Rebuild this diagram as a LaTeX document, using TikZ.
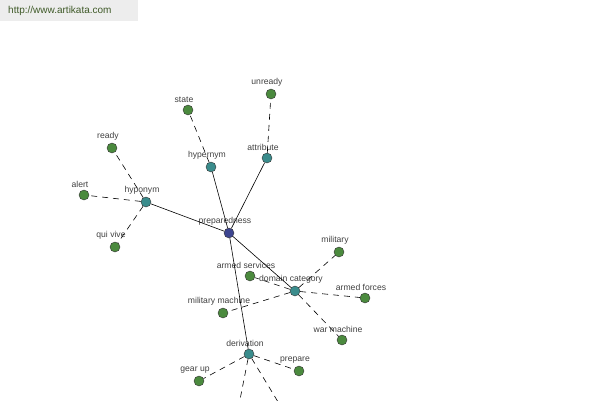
\documentclass[tikz,border=0pt]{standalone}
\usepackage{fontspec}
\setmainfont{Liberation Sans}
\usetikzlibrary{positioning}

\definecolor{hubblue}{HTML}{3D4590}
\definecolor{reltea}{HTML}{3A8C8C}
\definecolor{leafgreen}{HTML}{4B8A3E}
\definecolor{urlgreen}{HTML}{3F5A28}

\begin{document}
\begin{tikzpicture}[x=1pt, y=-1pt,
  wordnode/.style={circle, draw=black!80, thin, minimum size=10pt, inner sep=0pt,
    label={[label distance=-1.5pt, xshift=-4pt, text=black!75, font=\fontsize{8.6}{9}\selectfont]above:#1}},
  hubnode/.style={wordnode=#1, fill=hubblue},
  relnode/.style={wordnode=#1, fill=reltea},
  leafnode/.style={wordnode=#1, fill=leafgreen},
  solidedge/.style={draw=black, line width=0.6pt},
  dashedge/.style={draw=black, line width=0.6pt, dash pattern=on 6pt off 5pt}]
\useasboundingbox (0,0) rectangle (600,400);
\clip (0,0) rectangle (600,400);

\node (site) [anchor=north west, fill=black!7, text=urlgreen, text width=122pt, inner xsep=8pt,
  minimum height=21pt, align=left, font=\fontsize{10}{11}\selectfont] at (0,0) {http://www.artikata.com};

% centre
\node (prep) [hubnode=preparedness] at (229,233) {};

% relations
\node (hypo) [relnode=hyponym] at (146,202) {};
\node (hyper) [relnode=hypernym] at (211,167) {};
\node (attr) [relnode=attribute] at (267,158) {};
\node (domain) [relnode=domain category] at (295,291) {};
\node (deriv) [relnode=derivation] at (249,354) {};

% words
\node (state) [leafnode=state] at (188,110) {};
\node (unready) [leafnode=unready] at (271,94) {};
\node (ready) [leafnode=ready] at (112,148) {};
\node (alert) [leafnode=alert] at (84,195) {};
\node (quivive) [leafnode=qui vive] at (115,247) {};
\node (military) [leafnode=military] at (339,252) {};
\node (armserv) [leafnode=armed services] at (250,276) {};
\node (armforce) [leafnode=armed forces] at (365,298) {};
\node (milmach) [leafnode=military machine] at (223,313) {};
\node (warmach) [leafnode=war machine] at (342,340) {};
\node (prepare) [leafnode=prepare] at (299,371) {};
\node (gearup) [leafnode=gear up] at (199,381) {};
\coordinate (off1) at (236,420);
\coordinate (off2) at (289,420);

\draw [solidedge] (prep) -- (hypo);
\draw [solidedge] (prep) -- (hyper);
\draw [solidedge] (prep) -- (attr);
\draw [solidedge] (prep) -- (domain);
\draw [solidedge] (prep) -- (deriv);

\draw [dashedge] (hyper) -- (state);
\draw [dashedge] (attr) -- (unready);
\draw [dashedge] (hypo) -- (ready);
\draw [dashedge] (hypo) -- (alert);
\draw [dashedge] (hypo) -- (quivive);
\draw [dashedge] (domain) -- (military);
\draw [dashedge] (domain) -- (armserv);
\draw [dashedge] (domain) -- (armforce);
\draw [dashedge] (domain) -- (milmach);
\draw [dashedge] (domain) -- (warmach);
\draw [dashedge] (deriv) -- (prepare);
\draw [dashedge] (deriv) -- (gearup);
\draw [dashedge] (deriv) -- (off1);
\draw [dashedge] (deriv) -- (off2);

\end{tikzpicture}
\end{document}
